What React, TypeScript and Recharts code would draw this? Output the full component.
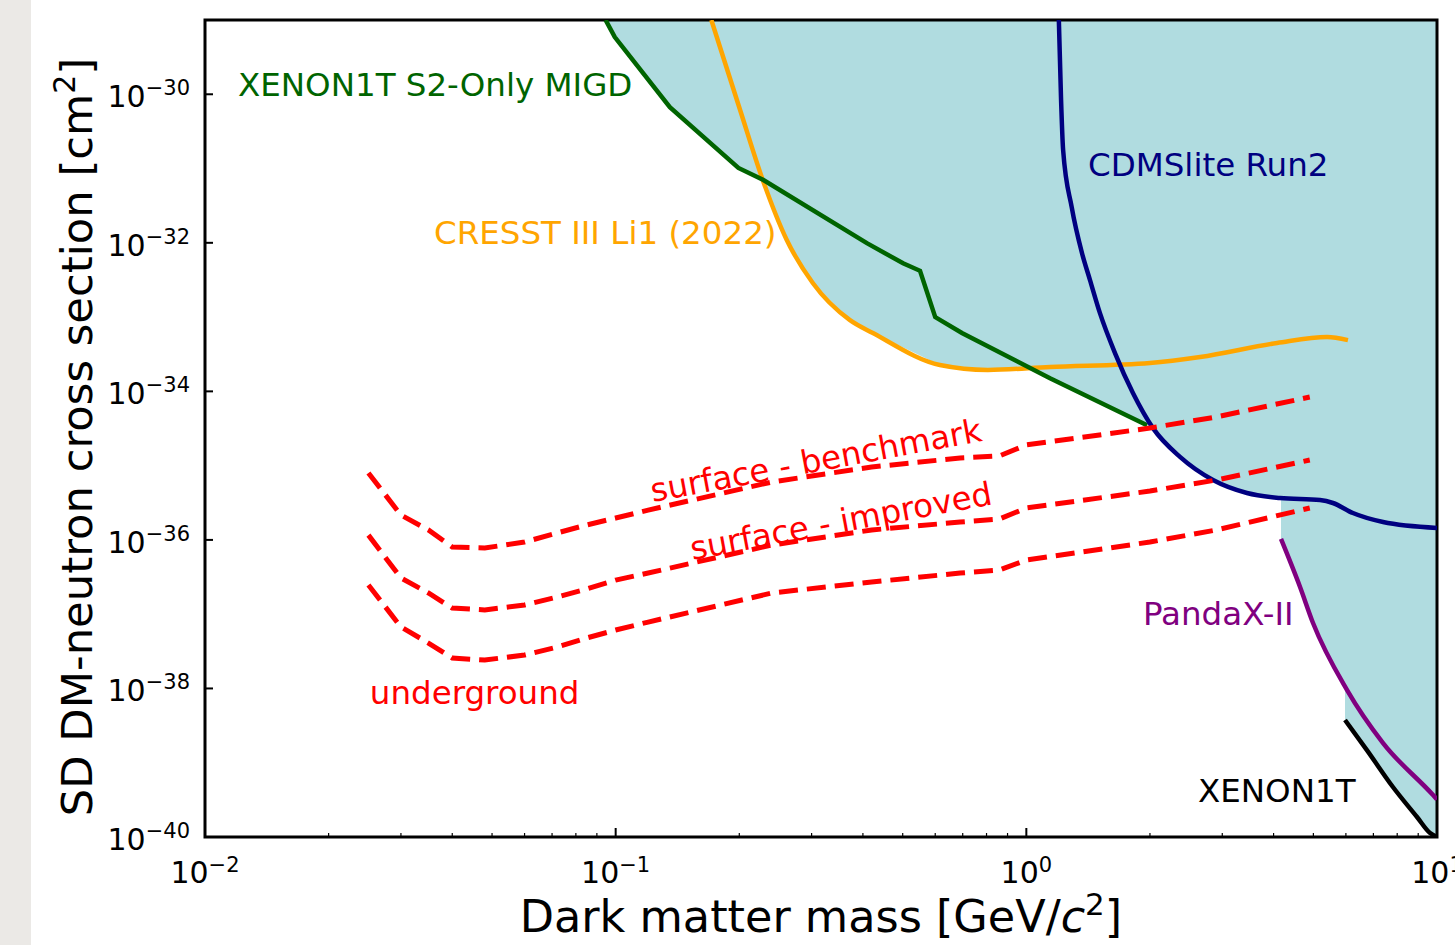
import { ComposedChart, Line, Area, Scatter, XAxis, YAxis, ReferenceArea, Label } from "recharts";

const FONT = "'DejaVu Sans', 'Noto Sans', sans-serif";
const GREEN = "#006400";
const ORANGE = "#ffa500";
const NAVY = "#000080";
const PURPLE = "#800080";
const RED = "#ff0000";
const FILL = "#b0dce0";

// XENON1T S2-Only MIGD
const migdMass = [0.0945, 0.0995, 0.1355, 0.199, 0.229, 0.409, 0.501, 0.551, 0.6, 0.697, 1.142, 1.968];
const migdSigma = [1e-29, 5.9e-30, 6.7e-31, 1.02e-31, 7.0e-32, 9.9e-33, 5.3e-33, 4.2e-33, 1.0e-33, 6.1e-34, 1.5e-34, 3.5e-35];

// CRESST III Li1 (2022)
const cresstMass = [0.171, 0.201, 0.229, 0.261, 0.302, 0.372, 0.423, 0.616, 0.806, 1.142, 2.0, 2.65, 4.08, 5.4, 6.07];
const cresstSigma = [1e-29, 6.1e-31, 6.6e-32, 1.09e-32, 2.88e-33, 9.1e-34, 6.1e-34, 2.26e-34, 1.94e-34, 2.13e-34, 2.41e-34, 2.9e-34, 4.48e-34, 5.4e-34, 4.9e-34];

// CDMSlite Run2
const cdmsMass = [1.2, 1.215, 1.229, 1.29, 1.366, 1.429, 1.511, 1.644, 1.818, 2.034, 2.367, 2.848, 3.445, 4.147, 5.19, 5.58, 6.24, 7.39, 10];
const cdmsSigma = [1e-29, 8.4e-31, 1.78e-31, 3.0e-32, 7.3e-33, 3.15e-33, 1.13e-33, 3.28e-34, 9.5e-35, 3.2e-35, 1.31e-35, 6.4e-36, 4.28e-36, 3.66e-36, 3.44e-36, 3.14e-36, 2.3e-36, 1.74e-36, 1.45e-36];

// PandaX-II
const pandaMass = [4.17, 4.64, 4.99, 6.04, 7.39, 9.78, 10];
const pandaSigma = [1.03e-36, 2.32e-37, 7.6e-38, 9.5e-39, 1.84e-39, 3.67e-40, 3.2e-40];

// XENON1T
const xenonMass = [5.97, 6.75, 7.81, 8.94, 9.62, 10];
const xenonSigma = [3.76e-39, 1.48e-39, 4.71e-40, 1.86e-40, 1.13e-40, 1e-40];

// projected sensitivities (dashed)
const projMass = [0.025, 0.03, 0.035, 0.04, 0.048, 0.06, 0.072, 0.085, 0.1, 0.12, 0.24, 0.42, 0.69, 0.86, 1.0, 2.0, 2.9, 4.9];
const benchmarkSigma = [7.96e-36, 2.16e-36, 1.36e-36, 8.02e-37, 7.78e-37, 9.37e-37, 1.24e-36, 1.59e-36, 1.97e-36, 2.52e-36, 6.02e-36, 9.58e-36, 1.27e-35, 1.35e-35, 1.9e-35, 3.21e-35, 4.52e-35, 8.39e-35];
const improvedSigma = [1.16e-36, 3.07e-37, 1.93e-37, 1.21e-37, 1.14e-37, 1.33e-37, 1.7e-37, 2.18e-37, 2.88e-37, 3.58e-37, 8.53e-37, 1.36e-36, 1.74e-36, 1.91e-36, 2.69e-36, 4.55e-36, 6.4e-36, 1.19e-35];
const undergroundSigma = [2.47e-37, 6.72e-38, 4.09e-38, 2.57e-38, 2.41e-38, 2.82e-38, 3.61e-38, 4.78e-38, 6.12e-38, 7.83e-38, 1.93e-37, 2.71e-37, 3.58e-37, 3.93e-37, 5.36e-37, 9.37e-37, 1.36e-36, 2.69e-36];

// lower edge of the shaded excluded region
const excludedMass = [0.0945, 0.0995, 0.1355, 0.199, 0.229, 0.261, 0.302, 0.372, 0.423, 0.616, 0.806, 1.01, 1.142, 1.968, 2.034, 2.367, 2.848, 3.445, 4.147, 4.17, 4.17, 4.64, 4.99, 5.97, 5.97, 6.75, 7.81, 8.94, 9.62, 10];
const excludedSigma = [1e-29, 5.9e-30, 6.7e-31, 1.02e-31, 7.0e-32, 1.09e-32, 2.88e-33, 9.1e-34, 6.1e-34, 2.26e-34, 1.94e-34, 2.0e-34, 1.5e-34, 3.5e-35, 3.2e-35, 1.31e-35, 6.4e-36, 4.28e-36, 3.66e-36, 3.64e-36, 1.03e-36, 2.32e-37, 7.6e-38, 1.1e-38, 3.76e-39, 1.48e-39, 4.71e-40, 1.86e-40, 1.13e-40, 1e-40];

const X_TICKS = [0.01, 0.02, 0.03, 0.04, 0.05, 0.06, 0.07, 0.08, 0.09, 0.1, 0.2, 0.3, 0.4, 0.5, 0.6, 0.7, 0.8, 0.9, 1, 2, 3, 4, 5, 6, 7, 8, 9, 10];
const Y_TICKS = [1e-40, 1e-38, 1e-36, 1e-34, 1e-32, 1e-30];

// text annotations, anchored in data coordinates
const LABELS = [
  { text: "XENON1T S2-Only MIGD", m: 0.01203, s: 1.33e-30, color: GREEN },
  { text: "CRESST III Li1 (2022)", m: 0.0361, s: 1.36e-32, color: ORANGE },
  { text: "CDMSlite Run2", m: 1.413, s: 1.12e-31, color: NAVY },
  { text: "PandaX-II", m: 1.923, s: 1.0e-37, color: PURPLE },
  { text: "XENON1T", m: 2.618, s: 4.16e-40, color: "#000" },
  { text: "underground", m: 0.0252, s: 8.67e-39, color: RED },
  { text: "surface - benchmark", m: 0.3075, s: 1.17e-35, color: RED, angle: -10.5, anchor: "middle" },
  { text: "surface - improved", m: 0.3537, s: 1.78e-36, color: RED, angle: -10.5, anchor: "middle" },
];

const toPoints = (mass: number[], sigma: number[]) => mass.map((m, i) => ({ m, s: sigma[i] }));

const exponent = (v: number) => Math.round(Math.log10(v));
const expText = (e: number) => (e < 0 ? "\u2212" + Math.abs(e) : String(e));

const XTick = (props: any) => {
  const { x, y, payload } = props;
  const v = payload.value;
  const e = exponent(v);
  const major = Math.abs(Math.log10(v) - e) < 1e-6;
  return (
    <g>
      <line x1={x} x2={x} y1={y - 15} y2={y - 15 - (major ? 9 : 4)} stroke="#000" strokeWidth={major ? 2 : 1.2} />
      {major && (
        <text x={x} y={y + 31} textAnchor="middle" fontFamily={FONT} fontSize={30} fill="#000">
          10<tspan dy={-11} fontSize={21}>{expText(e)}</tspan>
        </text>
      )}
    </g>
  );
};

const YTick = (props: any) => {
  const { x, y, payload } = props;
  const e = exponent(payload.value);
  return (
    <g>
      <line x1={x + 15} x2={x + 23} y1={y} y2={y} stroke="#000" strokeWidth={2} />
      <text x={x} y={y + 13} textAnchor="end" fontFamily={FONT} fontSize={30} fill="#000">
        10<tspan dy={-12} fontSize={21}>{expText(e)}</tspan>
      </text>
    </g>
  );
};

const renderAnnotation = (props: any) => {
  const { cx, cy, payload } = props;
  return (
    <text
      x={cx}
      y={cy}
      fill={payload.color}
      fontSize={32.5}
      fontFamily={FONT}
      dominantBaseline="central"
      textAnchor={payload.anchor ?? "start"}
      transform={payload.angle ? `rotate(${payload.angle} ${cx} ${cy})` : undefined}
    >
      {payload.text}
    </text>
  );
};

export default function App() {
  return (
    <div style={{ position: "absolute", left: 0, top: 0, width: 1455, height: 945, background: "#fff" }}>
      <ComposedChart width={1455} height={945} margin={{ top: 20, right: 18, bottom: 0, left: 0 }}>
        <XAxis
          dataKey="m"
          type="number"
          scale="log"
          domain={[0.01, 10]}
          ticks={X_TICKS}
          interval={0}
          allowDataOverflow
          axisLine={false}
          tickLine={false}
          tickSize={0}
          tickMargin={15}
          height={108}
          tick={<XTick />}
        >
          <Label
            content={(p: any) => {
              const vb = p.viewBox;
              return (
                <text x={vb.x + vb.width / 2} y={vb.y + 95} textAnchor="middle" fontFamily={FONT} fontSize={44.5} fill="#000">
                  Dark matter mass [GeV/<tspan fontStyle="italic">c</tspan>
                  <tspan dy={-17} fontSize={31}>2</tspan>
                  <tspan dy={17}>]</tspan>
                </text>
              );
            }}
          />
        </XAxis>
        <YAxis
          dataKey="s"
          type="number"
          scale="log"
          domain={[1e-40, 1e-29]}
          ticks={Y_TICKS}
          interval={0}
          allowDataOverflow
          axisLine={false}
          tickLine={false}
          tickSize={0}
          tickMargin={15}
          width={205}
          tick={<YTick />}
        >
          <Label
            content={() => (
              <text x={92} y={437} transform="rotate(-90 92 437)" textAnchor="middle" fontFamily={FONT} fontSize={43.3} fill="#000">
                SD DM-neutron cross section [cm<tspan dy={-17} fontSize={30}>2</tspan>
                <tspan dy={17}>]</tspan>
              </text>
            )}
          />
        </YAxis>

        <Area
          data={toPoints(excludedMass, excludedSigma)}
          dataKey="s"
          type="linear"
          baseValue={1e-29}
          fill={FILL}
          fillOpacity={1}
          stroke="none"
          isAnimationActive={false}
        />
        <Line data={toPoints(cresstMass, cresstSigma)} dataKey="s" type="monotone" stroke={ORANGE} strokeWidth={4.5} dot={false} isAnimationActive={false} />
        <Line data={toPoints(migdMass, migdSigma)} dataKey="s" type="linear" stroke={GREEN} strokeWidth={4.5} dot={false} isAnimationActive={false} />
        <Line data={toPoints(cdmsMass, cdmsSigma)} dataKey="s" type="monotone" stroke={NAVY} strokeWidth={4.5} dot={false} isAnimationActive={false} />
        <Line data={toPoints(pandaMass, pandaSigma)} dataKey="s" type="monotone" stroke={PURPLE} strokeWidth={4.5} dot={false} isAnimationActive={false} />
        <Line data={toPoints(xenonMass, xenonSigma)} dataKey="s" type="monotone" stroke="#000" strokeWidth={4.5} dot={false} isAnimationActive={false} />
        <Line data={toPoints(projMass, benchmarkSigma)} dataKey="s" type="linear" stroke={RED} strokeWidth={5} strokeDasharray="19 9" dot={false} isAnimationActive={false} />
        <Line data={toPoints(projMass, improvedSigma)} dataKey="s" type="linear" stroke={RED} strokeWidth={5} strokeDasharray="19 9" dot={false} isAnimationActive={false} />
        <Line data={toPoints(projMass, undergroundSigma)} dataKey="s" type="linear" stroke={RED} strokeWidth={5} strokeDasharray="19 9" dot={false} isAnimationActive={false} />

        <Scatter data={LABELS} dataKey="s" shape={renderAnnotation} isAnimationActive={false} />

        <ReferenceArea x1={0.01} x2={10} y1={1e-40} y2={1e-29} fill="none" stroke="#000" strokeWidth={3} ifOverflow="visible" />
      </ComposedChart>
      <div style={{ position: "absolute", left: 0, top: 0, width: 31, height: 945, background: "#ebe9e6" }} />
    </div>
  );
}
